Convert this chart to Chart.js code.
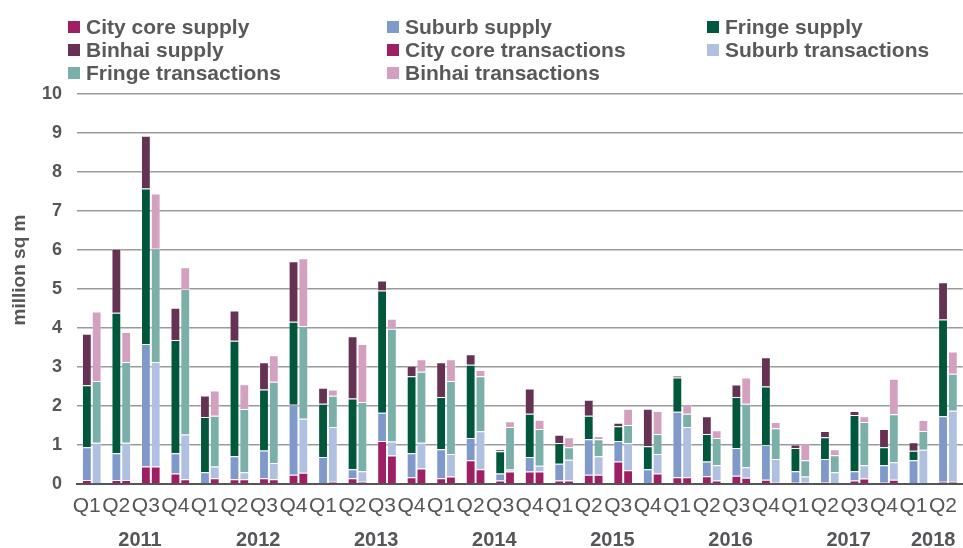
<!DOCTYPE html>
<html>
<head>
<meta charset="utf-8">
<script src="https://cdn.jsdelivr.net/npm/chart.js@4/dist/chart.umd.min.js"></script>
<style>
    html, body { margin: 0; padding: 0; background: #fff; overflow: hidden; }
    #wrap { position: relative; width: 963px; height: 548px; overflow: hidden; }
    #chart { position: absolute; left: 0; top: 0; }
    .item { position: absolute; height: 24px; display: flex; align-items: center; white-space: nowrap;
        font: bold 21px "Liberation Sans", Arial, sans-serif; color: #58595b; }
    .box { width: 12px; height: 12px; margin-right: 6px; flex: none; }
</style>
</head>
<body>
<div id="wrap">
    <canvas id="chart" width="972" height="548"></canvas>
    <div id="legend"></div>
</div>
<script>
let quarters = ["Q1","Q2","Q3","Q4","Q1","Q2","Q3","Q4","Q1","Q2","Q3","Q4","Q1","Q2","Q3","Q4",
    "Q1","Q2","Q3","Q4","Q1","Q2","Q3","Q4","Q1","Q2","Q3","Q4","Q1","Q2"];
let years = ["2011","2012","2013","2014","2015","2016","2017","2018"];

// million sq m, 2011Q1 .. 2018Q2
let cityCoreSupply = [0.10,0.10,0.45,0.27,0,0.12,0.15,0.24,0,0.15,1.10,0.17,0.15,0.61,0.09,0.32,0.09,0.24,0.58,0,0.17,0.20,0.21,0.11,0.03,0.04,0.09,0.03,0,0.06];
let suburbSupply = [0.84,0.69,3.14,0.52,0.30,0.59,0.71,1.79,0.69,0.23,0.73,0.62,0.74,0.57,0.18,0.37,0.43,0.91,0.52,0.38,1.68,0.38,0.71,0.89,0.30,0.60,0.24,0.45,0.61,1.68];
let fringeSupply = [1.59,3.60,3.99,2.90,1.42,2.96,1.56,2.13,1.37,1.81,3.13,1.97,1.34,1.88,0.57,1.11,0.53,0.60,0.38,0.59,0.88,0.70,1.31,1.50,0.59,0.56,1.44,0.46,0.24,2.48];
let binhaiSupply = [1.32,1.64,1.35,0.83,0.55,0.78,0.70,1.55,0.41,1.60,0.26,0.27,0.89,0.27,0.05,0.65,0.21,0.41,0.09,0.96,0.05,0.46,0.32,0.75,0.09,0.16,0.10,0.47,0.22,0.95];
let cityCoreTrans = [0.02,0.10,0.45,0.12,0.15,0.12,0.12,0.29,0.06,0.06,0.73,0.40,0.19,0.38,0.32,0.32,0.09,0.24,0.35,0.27,0.17,0.09,0.16,0.04,0.03,0,0.14,0.11,0,0.06];
let suburbTrans = [1.04,0.96,2.68,1.15,0.30,0.18,0.42,1.38,1.40,0.27,0.36,0.66,0.58,0.97,0.05,0.15,0.53,0.47,0.70,0.50,1.29,0.39,0.27,0.60,0.16,0.30,0.34,0.45,0.88,1.82];
let fringeTrans = [1.58,2.07,2.90,3.73,1.30,1.62,2.08,2.38,0.80,1.77,2.89,1.82,1.87,1.41,1.09,0.94,0.32,0.44,0.46,0.51,0.34,0.70,1.63,0.79,0.42,0.44,1.11,1.23,0.48,0.95];
let binhaiTrans = [1.78,0.77,1.42,0.56,0.65,0.64,0.68,1.74,0.16,1.49,0.26,0.32,0.56,0.16,0.15,0.24,0.26,0.08,0.42,0.59,0.24,0.20,0.67,0.16,0.44,0.15,0.15,0.91,0.28,0.57];

let font = '"Liberation Sans", Arial, sans-serif';
let grey = "#555659";

function ds(label, data, color, stack) {
    return {
        label: label,
        data: data,
        backgroundColor: color,
        borderColor: "rgba(255,255,255,0.3)",
        borderWidth: 1,
        stack: stack
    };
}

let datasets = [
    ds("City core supply", cityCoreSupply, "#9e1f63", "supply"),
    ds("Suburb supply", suburbSupply, "#7f99cb", "supply"),
    ds("Fringe supply", fringeSupply, "#00573b", "supply"),
    ds("Binhai supply", binhaiSupply, "#663254", "supply"),
    ds("City core transactions", cityCoreTrans, "#9e1f63", "trans"),
    ds("Suburb transactions", suburbTrans, "#b0c0e0", "trans"),
    ds("Fringe transactions", fringeTrans, "#7ab0a8", "trans"),
    ds("Binhai transactions", binhaiTrans, "#d4a0c0", "trans")
];

// year labels under the quarters + y axis title
let extraText = {
    id: "extraText",
    afterDraw(chart) {
        let ctx = chart.ctx;
        let x = chart.scales.x;
        ctx.save();
        ctx.fillStyle = grey;
        ctx.font = "bold 20px " + font;
        ctx.textAlign = "center";
        ctx.textBaseline = "middle";
        years.forEach((y, k) => {
            let first = k * 4;
            let last = Math.min(first + 3, quarters.length - 1);
            let cx = (x.getPixelForValue(first) + x.getPixelForValue(last)) / 2;
            if (last - first == 3) cx += 4;
            ctx.fillText(y, cx, 540);
        });
        ctx.translate(20, 270);
        ctx.rotate(-Math.PI / 2);
        ctx.font = "bold 19px " + font;
        ctx.fillText("million sq m", 0, 0);
        ctx.restore();
    }
};

let chart = new Chart(document.getElementById("chart"), {
    type: "bar",
    data: { labels: quarters, datasets: datasets },
    options: {
        responsive: false,
        animation: false,
        layout: { padding: { top: 94, right: 2, left: 0, bottom: 0 } },
        datasets: { bar: { categoryPercentage: 0.665, barPercentage: 1 } },
        plugins: { legend: { display: false }, tooltip: { enabled: false } },
        scales: {
            x: {
                stacked: true,
                grid: { display: false, drawTicks: false },
                border: { color: "#555", width: 2 },
                ticks: { color: grey, font: { family: font, size: 21 }, padding: 10, labelOffset: -5, maxRotation: 0, autoSkip: false },
                afterFit: (s) => { s.height = 64; }
            },
            y: {
                stacked: true,
                min: 0,
                max: 10,
                grid: { color: "#9a9a9a", lineWidth: 1.5, drawTicks: false },
                border: { display: false },
                ticks: { stepSize: 1, color: grey, font: { family: font, size: 18, weight: "bold" }, padding: 15 },
                afterFit: (s) => { s.width = 77; }
            }
        }
    },
    plugins: [extraText]
});

// legend in three columns
let legend = document.getElementById("legend");
let colX = [68, 387, 707];
chart.data.datasets.forEach((d, i) => {
    let item = document.createElement("div");
    item.className = "item";
    item.style.left = colX[i % 3] + "px";
    item.style.top = (15 + 23 * Math.floor(i / 3)) + "px";
    item.innerHTML = `<span class="box" style="background:${d.backgroundColor}"></span>${d.label}`;
    legend.appendChild(item);
});
</script>
</body>
</html>
